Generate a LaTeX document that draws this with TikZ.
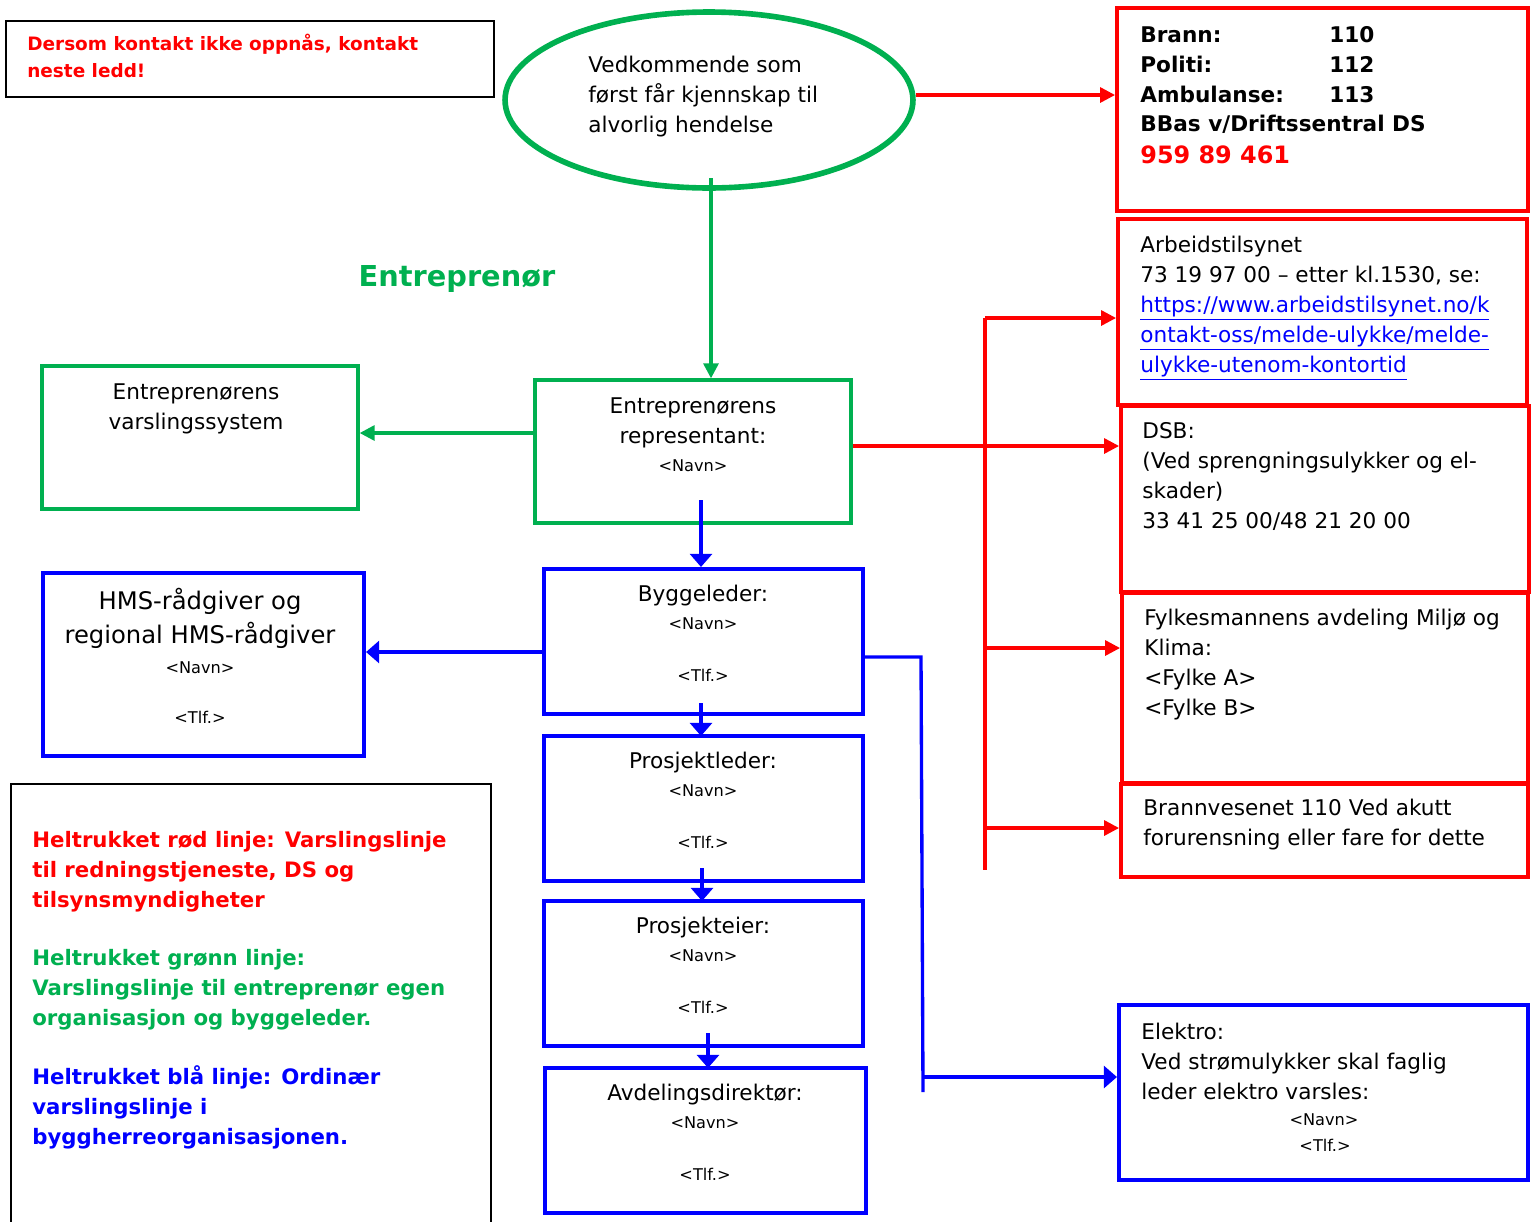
\documentclass[tikz,border=0pt]{standalone}
\usepackage{fontspec}
\setmainfont{DejaVu Sans}
\usetikzlibrary{arrows.meta,fit,shapes.geometric}
\definecolor{varselred}{RGB}{255,0,0}
\definecolor{varselgreen}{RGB}{0,176,80}
\definecolor{varselblue}{RGB}{0,0,255}
\def\fsmain{\fontsize{12.3}{17}\selectfont}
\def\fssmall{\fontsize{9.2}{12}\selectfont}

\tikzset{
	redbox/.style={draw=varselred, line width=2.2pt, inner sep=0pt},
	greenbox/.style={draw=varselgreen, line width=1.9pt, inner sep=0pt},
	bluebox/.style={draw=varselblue, line width=2.3pt, inner sep=0pt},
	blackbox/.style={draw=black, line width=1.1pt, inner sep=0pt},
	txt/.style={inner sep=0pt, align=left, anchor=base west, font=\fsmain},
	ctxt/.style={inner sep=0pt, align=center, anchor=base, font=\fsmain},
	smalltxt/.style={inner sep=0pt, anchor=base, font=\fssmall},
	legendtxt/.style={txt, font=\fontsize{12.1}{17}\selectfont\bfseries},
	redarr/.style={draw=varselred, line width=1.8pt, -{Triangle[length=8.5pt,width=8.5pt]}},
	greenarr/.style={draw=varselgreen, line width=1.8pt, -{Triangle[length=8.5pt,width=8.5pt]}},
	bluearr/.style={draw=varselblue, line width=1.9pt, -{Triangle[length=7.5pt,width=12.5pt]}},
	redline/.style={draw=varselred, line width=1.8pt},
	blueline/.style={draw=varselblue, line width=1.9pt},
}

\begin{document}
\begin{tikzpicture}[x=0.02cm, y=-0.02cm]
		%%%%% START %%%%%
		\useasboundingbox (0, 0) rectangle (1533, 1221);
		
		% notice top left (multi-line nodes sit on the baseline of their last line)
		\node[blackbox, fit={(6, 21) (494, 97)}] (dersom) {};
		\node[txt, text=varselred, font=\fontsize{10.5}{15.3}\selectfont\bfseries] (dersomtxt) at (27, 77)
			{Dersom kontakt ikke oppnås, kontakt\\neste ledd!};
		
		% the one who first learns about it
		\node[ellipse, draw=varselgreen, line width=3.2pt, minimum width=8.16cm, minimum height=3.52cm, inner sep=0pt] (vedk) at (709, 100) {};
		\node[txt] (vedktxt) at (588, 132) {Vedkommende som\\først får kjennskap til\\alvorlig hendelse};
		
		\node[anchor=base, inner sep=0pt, text=varselgreen, font=\fontsize{16.4}{20}\selectfont\bfseries] (entr) at (457, 286) {Entreprenør};
		
		% emergency numbers and authorities
		\node[redbox, fit={(1117, 8) (1528, 211)}] (brann) {};
		\node[txt, font=\fsmain\bfseries] (brannlbl) at (1140, 102) {Brann:\\Politi:\\Ambulanse:};
		\node[txt, font=\fsmain\bfseries] (brannnr) at (1329, 102) {110\\112\\113};
		\node[txt, font=\fsmain\bfseries] (bbas) at (1140, 131) {BBas v/Driftssentral DS};
		\node[txt, text=varselred, font=\fontsize{13.6}{17}\selectfont\bfseries] (bbasnr) at (1140, 163) {959 89 461};
		
		\node[redbox, fit={(1118, 219) (1527, 405)}] (arbeid) {};
		\node[txt] (arbeidtxt) at (1140, 372) {Arbeidstilsynet\\73 19 97 00 – etter kl.1530, se:\\
			\color{varselblue}\underline{https://www.arbeidstilsynet.no/k}\\
			\color{varselblue}\underline{ontakt-oss/melde-ulykke/melde-}\\
			\color{varselblue}\underline{ulykke-utenom-kontortid}};
		
		\node[redbox, fit={(1121, 406) (1529, 592)}] (dsb) {};
		\node[txt] (dsbtxt) at (1142, 528) {DSB:\\(Ved sprengningsulykker og el-\\skader)\\33 41 25 00/48 21 20 00};
		
		\node[redbox, fit={(1122, 593) (1528, 783)}] (fylke) {};
		\node[txt] (fylketxt) at (1144, 715) {Fylkesmannens avdeling Miljø og\\Klima:\\<Fylke A>\\<Fylke B>};
		
		\node[redbox, fit={(1121, 784) (1528, 877)}] (brannv) {};
		\node[txt] (brannvtxt) at (1143, 845) {Brannvesenet 110 Ved akutt\\forurensning eller fare for dette};
		
		% contractor
		\node[greenbox, fit={(535, 380) (851, 523)}] (rep) {};
		\node[ctxt] (reptxt) at (693, 443) {Entreprenørens\\representant:};
		\node[smalltxt] (repnavn) at (693, 471) {<Navn>};
		
		\node[greenbox, fit={(42, 366) (358, 509)}] (varsl) {};
		\node[ctxt] (varsltxt) at (196, 429) {Entreprenørens\\varslingssystem};
		
		% client organisation
		\node[bluebox, fit={(43, 573) (364, 756)}] (hms) {};
		\node[ctxt, font=\fontsize{13.8}{19.3}\selectfont] (hmstxt) at (200, 643) {HMS-rådgiver og\\regional HMS-rådgiver};
		\node[smalltxt] (hmsnavn) at (200, 673) {<Navn>};
		\node[smalltxt] (hmstlf) at (200, 723) {<Tlf.>};
		
		\node[bluebox, fit={(544, 569) (863, 714)}] (bygg) {};
		\node[ctxt] (byggtxt) at (703, 601) {Byggeleder:};
		\node[smalltxt] (byggnavn) at (703, 629) {<Navn>};
		\node[smalltxt] (byggtlf) at (703, 681) {<Tlf.>};
		
		\node[bluebox, fit={(544, 736) (863, 881)}] (pleder) {};
		\node[ctxt] (ledertxt) at (703, 768) {Prosjektleder:};
		\node[smalltxt] (ledernavn) at (703, 796) {<Navn>};
		\node[smalltxt] (ledertlf) at (703, 848) {<Tlf.>};
		
		\node[bluebox, fit={(544, 901) (863, 1046)}] (peier) {};
		\node[ctxt] (eiertxt) at (703, 933) {Prosjekteier:};
		\node[smalltxt] (eiernavn) at (703, 961) {<Navn>};
		\node[smalltxt] (eiertlf) at (703, 1013) {<Tlf.>};
		
		\node[bluebox, fit={(545, 1068) (866, 1213)}] (avd) {};
		\node[ctxt] (avdtxt) at (705, 1100) {Avdelingsdirektør:};
		\node[smalltxt] (avdnavn) at (705, 1128) {<Navn>};
		\node[smalltxt] (avdtlf) at (705, 1180) {<Tlf.>};
		
		\node[bluebox, fit={(1119, 1005) (1528, 1180)}] (elektro) {};
		\node[txt] (elektrotxt) at (1141, 1099) {Elektro:\\Ved strømulykker skal faglig\\leder elektro varsles:};
		\node[smalltxt] (elektronavn) at (1324, 1125) {<Navn>};
		\node[smalltxt] (elektrotlf) at (1325, 1151) {<Tlf.>};
		
		% legend
		\node[blackbox, fit={(11, 784) (491, 1240)}] (legend) {};
		\node[legendtxt, text=varselred] (legred) at (32, 907)
			{Heltrukket rød linje: Varslingslinje\\til redningstjeneste, DS og\\tilsynsmyndigheter};
		\node[legendtxt, text=varselgreen] (leggreen) at (32, 1025)
			{Heltrukket grønn linje:\\Varslingslinje til entreprenør egen\\organisasjon og byggeleder.};
		\node[legendtxt, text=varselblue] (legblue) at (32, 1144)
			{Heltrukket blå linje: Ordinær\\varslingslinje i\\byggherreorganisasjonen.};
		
		% green lines
		\coordinate (gtail) at (711, 178);
		\draw[greenarr] (gtail) -- (gtail |- rep.north);
		\draw[greenarr] (rep.west |- 0, 433) -- (varsl.east |- 0, 433);
		
		% red lines
		\draw[redarr] (vedk.east |- 0, 95) -- (brann.west |- 0, 95);
		\draw[redarr] (rep.east |- 0, 446) -- (dsb.west |- 0, 446);
		\coordinate (rtop) at (985, 318);
		\coordinate (rbot) at (985, 870);
		\draw[redline] (rtop) -- (rbot);
		\draw[redarr] (rtop) -- (rtop -| arbeid.west);
		\draw[redarr] (rtop |- 0, 648) -- (fylke.west |- 0, 648);
		\draw[redarr] (rtop |- 0, 828) -- (brannv.west |- 0, 828);
		
		% blue lines
		\coordinate (btail) at (701, 500);
		\draw[bluearr] (btail) -- (btail |- bygg.north);
		\draw[bluearr] (bygg.west |- 0, 652) -- (hms.east |- 0, 652);
		\draw[bluearr] (701, 703) -- (701, 736);
		\draw[bluearr] (702, 868) -- (702, 901);
		\draw[bluearr] (708, 1033) -- (708, 1068);
		\coordinate (bjoint) at (921, 657);
		\coordinate (bend) at (923, 1092);
		\draw[blueline] (bygg.east |- bjoint) -- (bjoint) -- (bend);
		\draw[bluearr] (923, 1077) -- (elektro.west |- 0, 1077);
		
		%%%%% END %%%%%
	\end{tikzpicture}
\end{document}
